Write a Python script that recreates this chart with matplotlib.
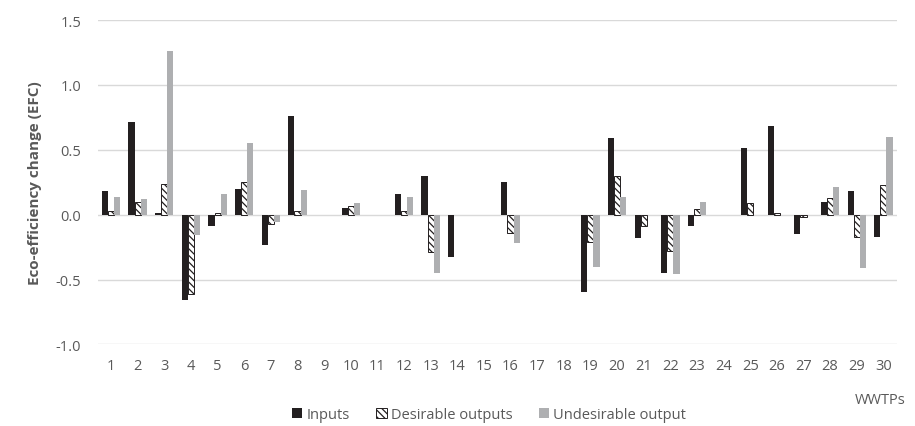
import matplotlib.pyplot as plt
import numpy as np

plt.rcParams['font.family'] = ['Open Sans', 'DejaVu Sans']
plt.rcParams['hatch.linewidth'] = 0.9

wwtps = [str(i) for i in range(1, 31)]
inputs = [0.185, 0.713, 0.015, -0.66, -0.09, 0.195, -0.233, 0.764, 0.0, 0.05,
          0.0, 0.156, 0.30, -0.326, 0.0, 0.254, 0.0, 0.0, -0.597, 0.59,
          -0.177, -0.45, -0.085, 0.0, 0.515, 0.685, -0.146, 0.10, 0.18, -0.17]
desirable = [0.03, 0.10, 0.24, -0.61, 0.015, 0.25, -0.07, 0.03, 0.0, 0.064,
             0.0, 0.026, -0.285, 0.0, 0.0, -0.144, 0.0, 0.0, -0.208, 0.30,
             -0.087, -0.277, 0.046, 0.0, 0.092, 0.01, -0.02, 0.126, -0.17, 0.226]
undesirable = [0.14, 0.12, 1.26, -0.16, 0.16, 0.55, -0.054, 0.19, 0.0, 0.092,
               0.0, 0.133, -0.45, -0.005, 0.0, -0.218, 0.0, 0.0, -0.40, 0.14,
               0.0, -0.46, 0.10, 0.0, 0.0, 0.0, -0.005, 0.21, -0.41, 0.595]

gray = '#595959'
fig = plt.figure(figsize=(9.15, 4.27), dpi=100)
ax = fig.add_axes([0.1068, 0.1909, 0.8732, 0.7599])

x = np.arange(len(wwtps))
w = 0.23


def nonzero(vals):
    # zero values get no bar at all (avoids stray edge lines)
    v = np.array(vals)
    m = v != 0
    return m, v[m]


m, v = nonzero(inputs)
ax.bar(x[m] - w, v, w, color='#231F20', label='Inputs', zorder=3)
m, v = nonzero(desirable)
ax.bar(x[m], v, w, color='white', edgecolor='#231F20', linewidth=0.7,
       hatch='\\\\\\\\\\', label='Desirable outputs', zorder=3)
m, v = nonzero(undesirable)
ax.bar(x[m] + w, v, w, color='#AEAFB1', label='Undesirable output', zorder=3)

ax.set_xlim(-0.5, len(wwtps) - 0.5)
ax.set_ylim(-1.0, 1.5)
ax.set_yticks([-1.0, -0.5, 0.0, 0.5, 1.0, 1.5])
ax.set_yticklabels(['-1.0', '-0.5', '0.0', '0.5', '1.0', '1.5'])
ax.set_xticks(x)
ax.set_xticklabels(wwtps)
ax.tick_params(length=0, colors=gray, labelsize=10.5)
ax.tick_params(axis='x', pad=10)
ax.tick_params(axis='y', pad=12)
ax.grid(axis='y', color='#D9D9D9', linewidth=1, zorder=0)
for s in ax.spines.values():
    s.set_visible(False)

ax.set_ylabel('Eco-efficiency change (EFC)', color=gray, fontsize=11,
              fontweight='bold', labelpad=10)
fig.text(0.962, 0.063, 'WWTPs', color=gray, fontsize=10.5,
         ha='center', va='center')
ax.legend(loc='lower center', bbox_to_anchor=(0.49, -0.28), ncol=3,
          frameon=False, fontsize=10.5, labelcolor=gray,
          handlelength=0.7, handleheight=0.7, handletextpad=0.3,
          columnspacing=1.8)

fig.savefig('out.png', dpi=100)
